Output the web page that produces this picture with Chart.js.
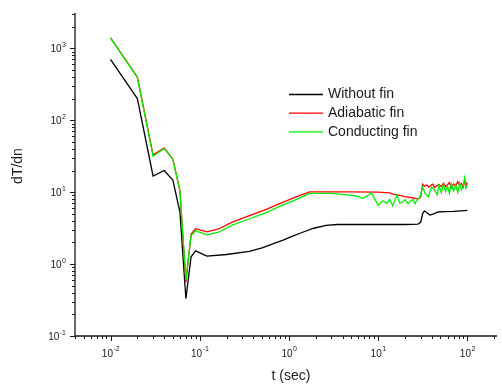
<!DOCTYPE html>
<html>
<head>
<meta charset="utf-8">
<script src="https://cdn.jsdelivr.net/npm/chart.js@4"></script>
<style>
  body { margin: 0; background: #fff; }
  #wrap { width: 502px; height: 385px; }
</style>
</head>
<body>
<div id="wrap"><canvas id="dtChart" width="502" height="385"></canvas></div>
<script>
// series (t in sec, dT/dn)
const seriesNames = ['Without fin', 'Adiabatic fin', 'Conducting fin'];
const seriesColors = ['#000000', '#ff0000', '#00ee00'];

const tWithout = [0.01, 0.02, 0.03, 0.04, 0.05, 0.06, 0.07, 0.08, 0.09, 0.12, 0.2, 0.36, 0.5, 0.65, 0.86, 1.1, 1.4, 1.9, 2.6, 3.5, 5, 10, 20, 28, 30, 31.5, 33, 35, 38, 42, 47, 55, 70, 85, 100];
const dWithout = [700, 200, 16.8, 20, 14.7, 5.3, 0.33, 1.26, 1.53, 1.29, 1.36, 1.5, 1.68, 1.9, 2.15, 2.45, 2.75, 3.15, 3.45, 3.55, 3.55, 3.55, 3.55, 3.6, 3.8, 5.0, 5.5, 5.2, 4.8, 5.0, 5.3, 5.35, 5.4, 5.5, 5.6];

const tAdiabatic = [0.01, 0.02, 0.03, 0.04, 0.05, 0.06, 0.07, 0.08, 0.09, 0.12, 0.16, 0.235, 0.35, 0.557, 0.8, 1.2, 1.71, 4.8, 10, 13.5, 15, 17.5, 20, 25, 28, 30, 31.5,
  33, 35, 37, 39, 41, 43, 45, 48, 51, 54, 57, 60, 63, 66, 70, 74, 78, 82, 86, 90, 94, 97, 100];
const dAdiabatic = [1400, 400, 33, 41, 29, 10.5, 0.56, 2.6, 3.1, 2.8, 3.05, 3.87, 4.65, 5.75, 7.0, 8.6, 10.1, 10.1, 10.0, 9.8, 9.3, 9.0, 8.7, 8.3, 8.0, 8.6, 12.9,
  12.1, 12.6, 11.8, 12.5, 12.9, 11.6, 12.2, 12.8, 12.0, 13.3, 11.9, 12.7, 13.6, 11.5, 13.0, 12.2, 14.0, 12.4, 13.2, 11.8, 14.7, 12.6, 13.5];

const tConducting = [0.01, 0.02, 0.03, 0.04, 0.05, 0.06, 0.07, 0.08, 0.09, 0.12, 0.16, 0.235, 0.35, 0.557, 0.8, 1.2, 1.71, 3.0, 4.8, 5.8, 6.7, 7.5, 8.4, 9.2, 10, 11.3, 12.5, 13.5, 14.6, 16.2, 17.5, 19, 20, 21.7, 23, 24.7, 26, 27, 28.1, 29.4, 31.5,
  33.5, 36.5, 39.8, 43.3, 46, 48, 51, 54, 57, 60, 63, 66, 70, 74, 78, 82, 86, 90, 93, 96, 100];
const dConducting = [1400, 392, 31.6, 40.4, 28.5, 10.4, 0.6, 2.5, 2.9, 2.55, 2.75, 3.5, 4.2, 5.2, 6.4, 7.9, 9.6, 9.6, 9.1, 8.8, 8.2, 8.8, 9.8, 8.0, 6.6, 7.6, 7.0, 7.9, 6.4, 9.1, 7.1, 7.3, 7.9, 6.9, 7.5, 7.9, 6.9, 7.7, 8.2, 8.6, 11.8,
  9.6, 8.6, 11.8, 10.6, 9.2, 12.4, 9.8, 12.8, 10.2, 12.0, 9.6, 13.0, 10.4, 12.6, 10.0, 13.4, 10.8, 12.2, 15.6, 11.4, 12.5];

const xTickValues = [0.01, 0.1, 1, 10, 100];
const yTickValues = [0.1, 1, 10, 100, 1000];

const FONT = '"Liberation Sans", Arial, sans-serif';
const INK = '#1a1a1a';

function pts(ts, vs) {
  return ts.map((t, i) => ({ x: t, y: vs[i] }));
}

function expOf(v) {
  return String(Math.round(Math.log10(v)));
}

// axes, ticks, labels and legend drawn like the original plot
const decorPlugin = {
  id: 'decor',
  afterDraw(chart) {
    const ctx = chart.ctx;
    const area = chart.chartArea;
    const xs = chart.scales.x, ys = chart.scales.y;
    ctx.save();
    ctx.strokeStyle = INK;
    ctx.lineWidth = 1.3;
    ctx.beginPath();
    ctx.moveTo(area.left, area.top);
    ctx.lineTo(area.left, area.bottom);
    ctx.lineTo(area.right, area.bottom);
    ctx.stroke();

    ctx.lineWidth = 1;
    for (let e = -4; e <= 3; e++) {
      for (let m = 1; m <= 9; m++) {
        const v = m * Math.pow(10, e);
        const len = m === 1 ? 5 : 3;
        if (v >= xs.min && v <= xs.max) {
          const px = Math.round(xs.getPixelForValue(v)) + 0.5;
          ctx.beginPath();
          ctx.moveTo(px, area.bottom);
          ctx.lineTo(px, area.bottom + len);
          ctx.stroke();
        }
        if (v >= ys.min && v <= ys.max) {
          const py = Math.round(ys.getPixelForValue(v)) + 0.5;
          ctx.beginPath();
          ctx.moveTo(area.left, py);
          ctx.lineTo(area.left - len, py);
          ctx.stroke();
        }
      }
    }

    ctx.fillStyle = INK;
    ctx.textBaseline = 'alphabetic';
    const big = '10px ' + FONT, small = '7px ' + FONT;
    xTickValues.forEach(v => {
      const px = xs.getPixelForValue(v);
      const ex = expOf(v);
      ctx.font = big; const w1 = ctx.measureText('10').width;
      ctx.font = small; const w2 = ctx.measureText(ex).width;
      const x0 = px - (w1 + w2) / 2;
      ctx.font = big; ctx.textAlign = 'left';
      ctx.fillText('10', x0, area.bottom + 21);
      ctx.font = small;
      ctx.fillText(ex, x0 + w1 + 0.5, area.bottom + 15);
    });
    yTickValues.forEach(v => {
      const py = ys.getPixelForValue(v);
      const ex = expOf(v);
      ctx.font = small; const w2 = ctx.measureText(ex).width;
      const right = area.left - 9;
      ctx.textAlign = 'left';
      ctx.font = big; const w1 = ctx.measureText('10').width;
      ctx.fillText('10', right - w2 - 0.5 - w1, py + 4);
      ctx.font = small;
      ctx.fillText(ex, right - w2, py - 1);
    });

    // axis titles
    ctx.font = '14px ' + FONT;
    ctx.textAlign = 'center';
    ctx.textBaseline = 'middle';
    ctx.fillText('t (sec)', (area.left + area.right) / 2 + 5, 376);
    ctx.save();
    ctx.translate(18, 166);
    ctx.rotate(-Math.PI / 2);
    ctx.fillText('dT/dn', 0, 0);
    ctx.restore();

    // legend
    ctx.textAlign = 'left';
    seriesNames.forEach((name, i) => {
      const y = 94.5 + i * 18.7;
      ctx.strokeStyle = seriesColors[i];
      ctx.lineWidth = 1.3;
      ctx.beginPath();
      ctx.moveTo(289, y);
      ctx.lineTo(323, y);
      ctx.stroke();
      ctx.fillStyle = INK;
      ctx.fillText(name, 328, y);
    });
    ctx.restore();
  }
};

const ctx = document.getElementById('dtChart').getContext('2d');
const chart = new Chart(ctx, {
  type: 'line',
  data: {
    datasets: [
      { label: seriesNames[0], data: pts(tWithout, dWithout), borderColor: seriesColors[0], order: 2 },
      { label: seriesNames[1], data: pts(tAdiabatic, dAdiabatic), borderColor: seriesColors[1], order: 1 },
      { label: seriesNames[2], data: pts(tConducting, dConducting), borderColor: seriesColors[2], order: 0 }
    ].map(d => Object.assign(d, { borderWidth: 1.3, pointRadius: 0, tension: 0, fill: false }))
  },
  options: {
    responsive: false,
    animation: false,
    layout: { padding: { left: 75, top: 13, right: 5, bottom: 49 } },
    plugins: { legend: { display: false }, tooltip: { enabled: false } },
    scales: {
      x: { type: 'logarithmic', min: 0.004, max: 215, display: false },
      y: { type: 'logarithmic', min: 0.1, max: 3100, display: false }
    }
  },
  plugins: [decorPlugin]
});
</script>
</body>
</html>
